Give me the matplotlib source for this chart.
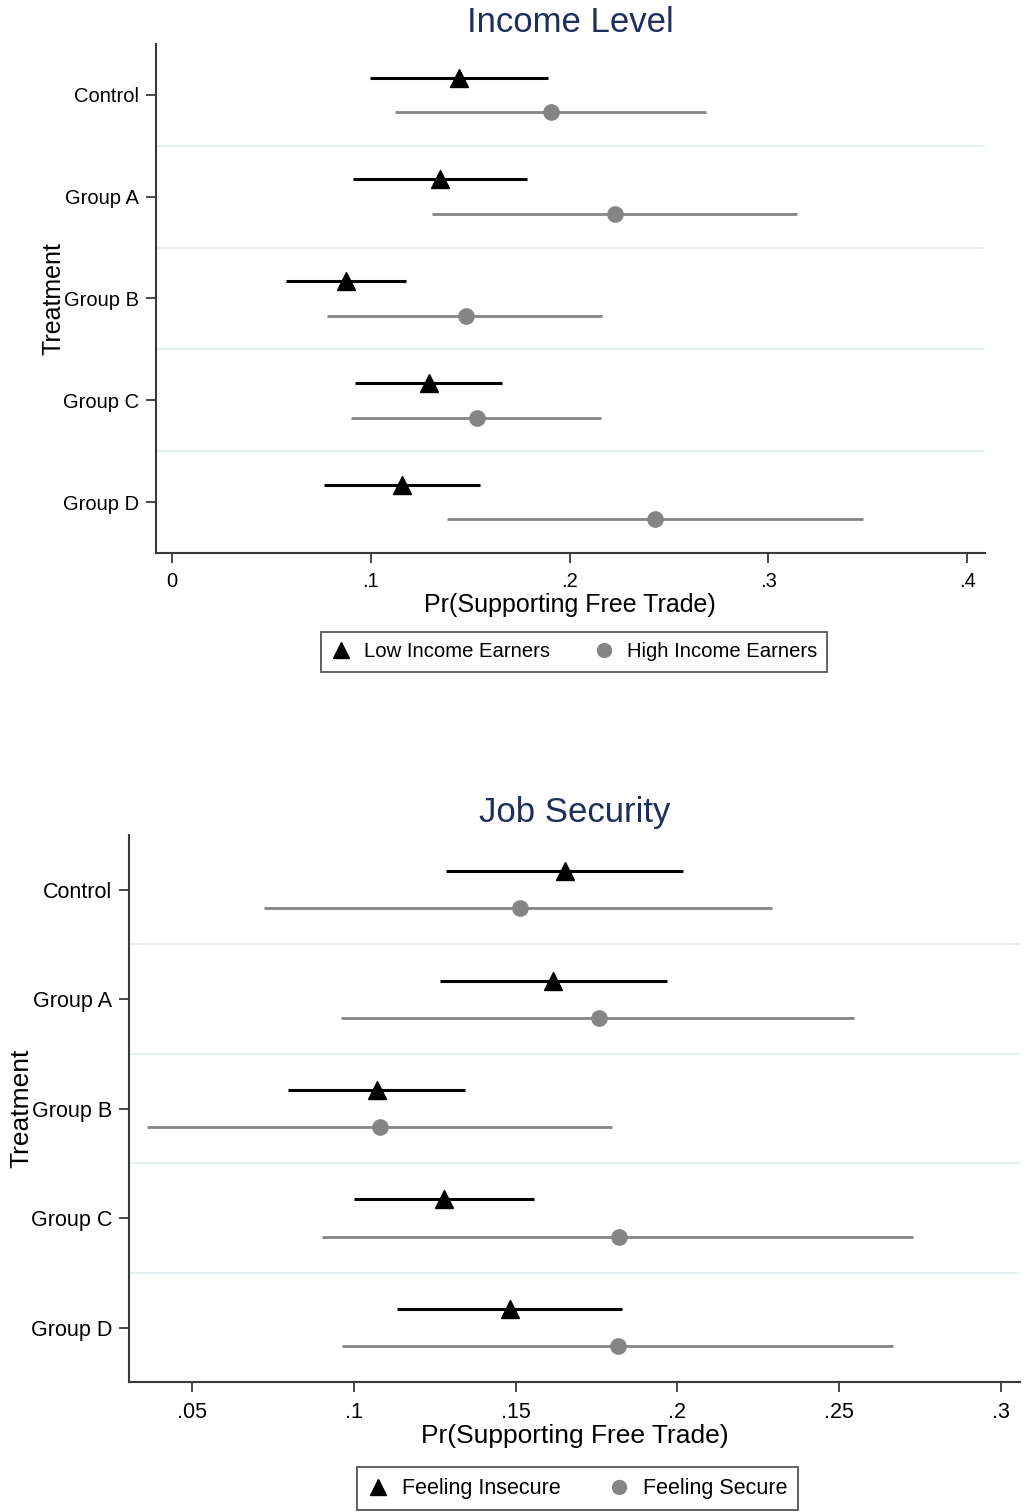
import matplotlib.pyplot as plt
import numpy as np
from matplotlib.lines import Line2D

plt.rcParams['font.family'] = ['Liberation Sans', 'DejaVu Sans']

groups = ['Control', 'Group A', 'Group B', 'Group C', 'Group D']

# Income level panel: point estimate, lower and upper bound
low_inc = [0.1446, 0.1348, 0.0874, 0.1293, 0.1159]
low_inc_lo = [0.0996, 0.0909, 0.0572, 0.0922, 0.0766]
low_inc_hi = [0.1890, 0.1788, 0.1177, 0.1662, 0.1550]
high_inc = [0.1907, 0.2229, 0.1478, 0.1536, 0.2430]
high_inc_lo = [0.1122, 0.1310, 0.0781, 0.0901, 0.1382]
high_inc_hi = [0.2687, 0.3143, 0.2162, 0.2158, 0.3475]

# Job security panel
insec = [0.1653, 0.1616, 0.1070, 0.1279, 0.1483]
insec_lo = [0.1285, 0.1266, 0.0797, 0.1000, 0.1132]
insec_hi = [0.2017, 0.1967, 0.1343, 0.1558, 0.1830]
secure = [0.1513, 0.1758, 0.1080, 0.1820, 0.1817]
secure_lo = [0.0722, 0.0960, 0.0361, 0.0900, 0.0962]
secure_hi = [0.2294, 0.2547, 0.1798, 0.2728, 0.2668]

title_color = '#1f2f5c'
grid_color = '#e6eff2'
gray = '#858585'
spine_color = '#3a3a3a'


def draw_panel(ax, est1, lo1, hi1, est2, lo2, hi2, xticks, xticklabels, xlim,
               title, fs, title_pad):
    y = np.arange(1, len(groups) + 1)
    off = 0.17
    est1, lo1, hi1 = map(np.array, (est1, lo1, hi1))
    est2, lo2, hi2 = map(np.array, (est2, lo2, hi2))

    for g in np.arange(1.5, len(groups), 1.0):
        ax.axhline(g, color=grid_color, lw=1.5, zorder=0)

    ax.errorbar(est1, y - off, xerr=[est1 - lo1, hi1 - est1], fmt='^',
                color='black', ms=12.5, ecolor='black', elinewidth=2.2,
                capsize=0, zorder=3)
    ax.errorbar(est2, y + off, xerr=[est2 - lo2, hi2 - est2], fmt='o',
                color=gray, ms=11, ecolor=gray, elinewidth=2.0,
                capsize=0, zorder=3)

    ax.set_ylim(5.5, 0.5)
    ax.set_xlim(*xlim)
    ax.set_yticks(y)
    ax.set_yticklabels(groups, fontsize=fs)
    ax.set_xticks(xticks)
    ax.set_xticklabels(xticklabels, fontsize=fs)
    ax.tick_params(length=7, width=1.3, color=spine_color, pad=5)
    ax.tick_params(axis='x', pad=7)
    for s in ['top', 'right']:
        ax.spines[s].set_visible(False)
    for s in ['left', 'bottom']:
        ax.spines[s].set_color(spine_color)
        ax.spines[s].set_linewidth(1.5)
    ax.set_xlabel('Pr(Supporting Free Trade)', fontsize=fs + 3.5, labelpad=1)
    ax.set_ylabel('Treatment', fontsize=fs + 3.5, labelpad=-2)
    ax.set_title(title, fontsize=25, color=title_color, pad=title_pad)


fig = plt.figure(figsize=(10.33, 15.12), dpi=100)

ax1 = fig.add_axes([0.1507, 0.6343, 0.8028, 0.3366])
draw_panel(ax1, low_inc, low_inc_lo, low_inc_hi, high_inc, high_inc_lo, high_inc_hi,
           [0, 0.1, 0.2, 0.3, 0.4], ['0', '.1', '.2', '.3', '.4'], (-0.0082, 0.409),
           'Income Level', 14.5, 8.5)

ax2 = fig.add_axes([0.1249, 0.0858, 0.8625, 0.3620])
draw_panel(ax2, insec, insec_lo, insec_hi, secure, secure_lo, secure_hi,
           [0.05, 0.1, 0.15, 0.2, 0.25, 0.3], ['.05', '.1', '.15', '.2', '.25', '.3'],
           (0.0304, 0.306), 'Job Security', 15.5, 9.4)


def legend(ax, labels, fs, anchor):
    handles = [Line2D([], [], ls='none', marker='^', color='black', ms=11),
               Line2D([], [], ls='none', marker='o', color=gray, ms=10)]
    leg = fig.legend(handles, labels, loc='center', bbox_to_anchor=anchor,
                     ncol=2, fontsize=fs, frameon=True, fancybox=False,
                     edgecolor=spine_color, handlelength=1.0, handletextpad=0.6,
                     columnspacing=2.2, borderpad=0.5)
    leg.get_frame().set_linewidth(1.4)


legend(ax1, ['Low Income Earners', 'High Income Earners'], 14.6, (0.5557, 0.5688))
legend(ax2, ['Feeling Insecure', 'Feeling Secure'], 15.5, (0.559, 0.0155))

fig.savefig('out.png', dpi=100)
